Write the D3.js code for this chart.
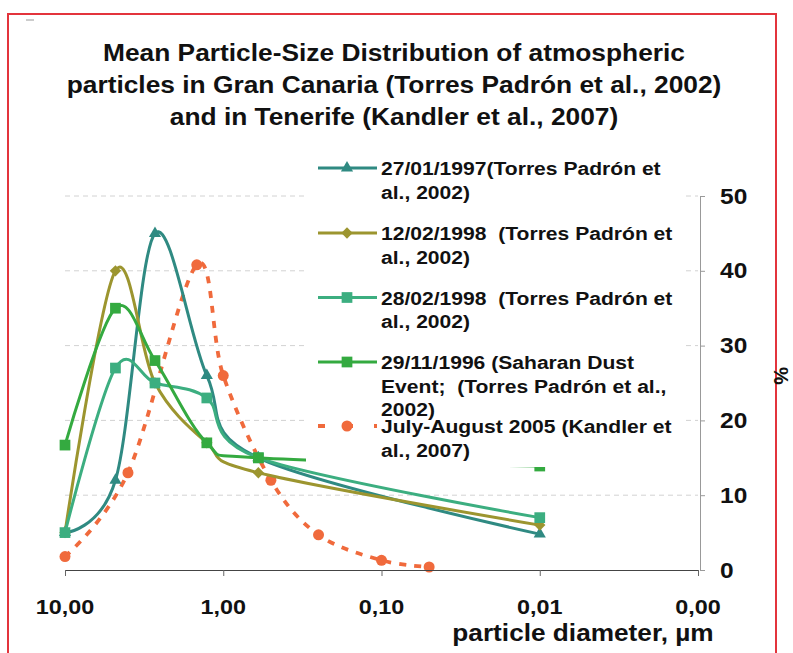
<!DOCTYPE html>
<html><head><meta charset="utf-8">
<script src="https://cdn.jsdelivr.net/npm/d3@7"></script>
<style>body{margin:0;background:#fff}svg{display:block}text{font-family:"Liberation Sans",Arial,sans-serif;font-weight:bold;fill:#111;white-space:pre}</style>
</head><body><svg id="c" width="793" height="653"></svg>
<script>
// ---- data ----
const diameters = [10, 4.8, 2.7, 1.27, 0.6, 0.01];
const s19970127 = [5, 12, 45, 26, 15, 4.8];
const s19980212 = [5, 40, 25, 17, 13, 6];
const s19980228 = [5, 27, 25, 23, 15, 7];
const s19961129 = [16.7, 35, 28, 17, 15, 13.9];
const kandlerDiameters = [10, 4, 1.47, 1.0, 0.5, 0.25, 0.1, 0.05];
const kandlerValues = [1.8, 13, 40.8, 26, 12, 4.7, 1.3, 0.4];
const xTicks = [10, 1, 0.1, 0.01, 0.001];
const xTickLabels = ["10,00", "1,00", "0,10", "0,01", "0,00"];
const yTicks = [0, 10, 20, 30, 40, 50];
const titleLines = ["Mean Particle-Size Distribution of atmospheric",
  "particles in Gran Canaria (Torres Padrón et al., 2002)",
  "and in Tenerife (Kandler et al., 2007)"];
const seriesNames = [
  ["27/01/1997(Torres Padrón et", "al., 2002)"],
  ["12/02/1998  (Torres Padrón et", "al., 2002)"],
  ["28/02/1998  (Torres Padrón et", "al., 2002)"],
  ["29/11/1996 (Saharan Dust", "Event;  (Torres Padrón et al.,", "2002)"],
  ["July-August 2005 (Kandler et", "al., 2007)"]
];
const xLabel = "particle diameter, \u00b5m";
const yLabel = "%";

const svg = d3.select("#c");
const SX = 1.14;
function txt(g, x, y, s, size, anchor) {
  return g.append("text").attr("transform", `translate(${x},${y}) scale(${SX},1)`)
    .attr("xml:space", "preserve")
    .attr("font-size", size).attr("text-anchor", anchor || "start").text(s);
}

const x = d3.scaleLog().domain([10, 0.001]).range([65, 698]);
const y = d3.scaleLinear().domain([0, 50]).range([570, 196]);

// border
svg.append("rect").attr("x", 8).attr("y", 14).attr("width", 768).attr("height", 660)
  .attr("fill", "none").attr("stroke", "#e3343c").attr("stroke-width", 2);
svg.append("line").attr("x1", 26).attr("x2", 34).attr("y1", 20).attr("y2", 20).attr("stroke", "#999").attr("stroke-width", 1);

// title
titleLines.forEach((l, i) => txt(svg, 394, 61 + i * 32, l, 23.1, "middle"));

// gridlines
const grid = svg.append("g");
grid.selectAll("line").data(yTicks.filter(d => d > 0)).join("line")
  .attr("x1", x(10)).attr("x2", x(0.001)).attr("y1", d => y(d)).attr("y2", d => y(d))
  .attr("stroke", "#d2d2d2").attr("stroke-width", 1).attr("stroke-dasharray", "5,4");

// series
const styles = [
  {color: "#2f8a82", sym: "tri"},
  {color: "#9c952f", sym: "dia"},
  {color: "#3cae80", sym: "sq"},
  {color: "#34aa40", sym: "sq"}
];
const kColor = "#f06a3c";
const seriesValues = [s19970127, s19980212, s19980228, s19961129];
const line = d3.line().x(d => x(d[0])).y(d => y(d[1])).curve(d3.curveCardinal);
function marker(g, sym, color, cx, cy) {
  if (sym === "tri") g.append("path").attr("d", d3.symbol(d3.symbolTriangle, 64)()).attr("transform", `translate(${cx},${cy})`).attr("fill", color);
  else if (sym === "sq") g.append("path").attr("d", d3.symbol(d3.symbolSquare, 115)()).attr("transform", `translate(${cx},${cy})`).attr("fill", color);
  else if (sym === "dia") g.append("path").attr("d", d3.symbol(d3.symbolSquare, 64)()).attr("transform", `translate(${cx},${cy}) rotate(45)`).attr("fill", color);
  else if (sym === "dot") g.append("circle").attr("cx", cx).attr("cy", cy).attr("r", 5.5).attr("fill", color);
}
const plot = svg.append("g");
// Kandler (dashed)
const kPts = kandlerDiameters.map((d, i) => [d, kandlerValues[i]]);
plot.append("path").attr("d", line(kPts)).attr("fill", "none").attr("stroke", kColor)
  .attr("stroke-width", 3.8).attr("stroke-dasharray", "7,8");
kPts.forEach(p => marker(plot, "dot", kColor, x(p[0]), y(p[1])));

seriesValues.forEach((vals, si) => {
  const pts = diameters.map((d, i) => [d, vals[i]]);
  plot.append("path").attr("d", line(pts)).attr("fill", "none").attr("stroke", styles[si].color).attr("stroke-width", 3);
  pts.forEach(p => marker(plot, styles[si].sym, styles[si].color, x(p[0]), y(p[1])));
});

// axes
const xAxis = svg.append("g").attr("transform", `translate(0,${y(0)})`)
  .call(d3.axisBottom(x).tickValues(xTicks).tickFormat("").tickSizeOuter(0).tickSize(6));
xAxis.select(".domain").attr("stroke", "#444");
xAxis.selectAll(".tick line").attr("stroke", "#666");
xTicks.forEach((t, i) => txt(svg, x(t), 614, xTickLabels[i], 20.5, "middle"));

const yAxis = svg.append("g").attr("transform", `translate(700,0)`)
  .call(d3.axisRight(y).tickValues(yTicks).tickFormat("").tickSizeOuter(0).tickSize(5));
yAxis.select(".domain").attr("stroke", "#999");
yAxis.selectAll(".tick line").attr("stroke", "#999");
yTicks.forEach(t => txt(svg, 720, y(t) + 7.5, String(t), 21.5, "start"));

txt(svg, 583, 641, xLabel, 23, "middle");
svg.append("text").attr("transform", "translate(774,376) rotate(90)").attr("font-size", 20).attr("text-anchor", "middle").text(yLabel);

// legend
const leg = svg.append("g");
leg.append("rect").attr("x", 306).attr("y", 148).attr("width", 376).attr("height", 319).attr("fill", "#fff");
const legTop = [168, 233, 297.5, 362, 426];
seriesNames.forEach((lines, i) => {
  const cy = legTop[i];
  if (i < 4) {
    leg.append("line").attr("x1", 318).attr("x2", 377).attr("y1", cy).attr("y2", cy).attr("stroke", styles[i].color).attr("stroke-width", 3);
    marker(leg, styles[i].sym, styles[i].color, 347, cy);
  } else {
    leg.append("line").attr("x1", 318).attr("x2", 377).attr("y1", cy).attr("y2", cy).attr("stroke", kColor).attr("stroke-width", 3.8).attr("stroke-dasharray", "7,21").attr("stroke-dashoffset", 0);
    marker(leg, "dot", kColor, 347, cy);
  }
  lines.forEach((l, j) => txt(leg, 381, cy + 7 + j * 23.5, l, 18.5, "start"));
});
</script></body></html>
